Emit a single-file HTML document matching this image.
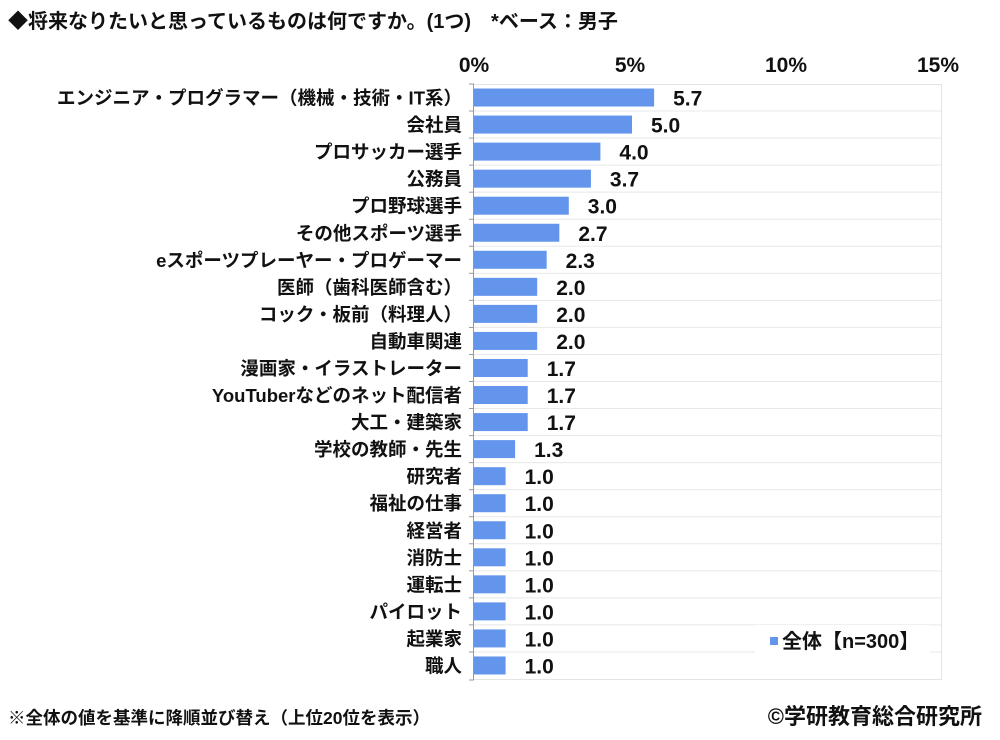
<!DOCTYPE html>
<html><head><meta charset="utf-8"><style>
body{margin:0;background:#fff;width:1000px;height:735px;overflow:hidden;font-family:"Liberation Sans","Noto Sans CJK JP",sans-serif;}
</style></head><body>
<svg width="1000" height="735" xmlns="http://www.w3.org/2000/svg" font-family="Liberation Sans, Noto Sans CJK JP, sans-serif">
<text x="8" y="28" font-size="20" font-weight="bold" fill="#111">◆将来なりたいと思っているものは何ですか。(1つ)　*ベース：男子</text>
<g font-size="21" font-weight="bold" fill="#111" text-anchor="middle">
<text x="474" y="72">0%</text><text x="630" y="72">5%</text><text x="786" y="72">10%</text><text x="938" y="72">15%</text>
</g>
<rect x="473.5" y="84.5" width="468" height="595" fill="#fff" stroke="#e4e4e4"/>
<g id="rows"></g>
<rect x="755" y="625" width="175" height="32" fill="#fff"/>
<rect x="770" y="637" width="8" height="8" fill="#6495ed"/>
<text x="782" y="648" font-size="20" font-weight="bold" fill="#111">全体【n=300】</text>
<text x="8" y="724" font-size="17.5" font-weight="bold" fill="#111">※全体の値を基準に降順並び替え（上位20位を表示）</text>
<text x="982" y="724" font-size="22" font-weight="bold" fill="#111" text-anchor="end">©学研教育総合研究所</text>
</svg>
<script>
(function(){
var d=[["エンジニア・プログラマー（機械・技術・IT系）",5.7],["会社員",5.0],["プロサッカー選手",4.0],["公務員",3.7],["プロ野球選手",3.0],["その他スポーツ選手",2.7],["eスポーツプレーヤー・プロゲーマー",2.3],["医師（歯科医師含む）",2.0],["コック・板前（料理人）",2.0],["自動車関連",2.0],["漫画家・イラストレーター",1.7],["YouTuberなどのネット配信者",1.7],["大工・建築家",1.7],["学校の教師・先生",1.3],["研究者",1.0],["福祉の仕事",1.0],["経営者",1.0],["消防士",1.0],["運転士",1.0],["パイロット",1.0],["起業家",1.0],["職人",1.0]];
var g=document.getElementById('rows');
var t0=84,h=595/22,px=31.6,s="";
d.forEach(function(r,i){var y0=t0+i*h,c=y0+h/2;
if(i>0)s+='<line x1="474" x2="941" y1="'+y0+'" y2="'+y0+'" stroke="#e8e8e8"/>';
s+='<line x1="469" x2="474" y1="'+y0+'" y2="'+y0+'" stroke="#999"/>';
var w=r[1]*px;
s+='<rect x="474" y="'+(c-9)+'" width="'+w+'" height="18" fill="#6495ed"/>';
s+='<text x="462" y="'+(c+7)+'" font-size="18.5" font-weight="bold" fill="#111" text-anchor="end">'+r[0]+'</text>';
s+='<text x="'+(474+w+19)+'" y="'+(c+8)+'" font-size="21" font-weight="bold" fill="#111">'+r[1].toFixed(1)+'</text>';});
s+='<line x1="469" x2="474" y1="680" y2="680" stroke="#999"/><line x1="473.5" x2="473.5" y1="84" y2="680" stroke="#999"/>';
g.innerHTML=s;
})();
</script>
</body></html>
